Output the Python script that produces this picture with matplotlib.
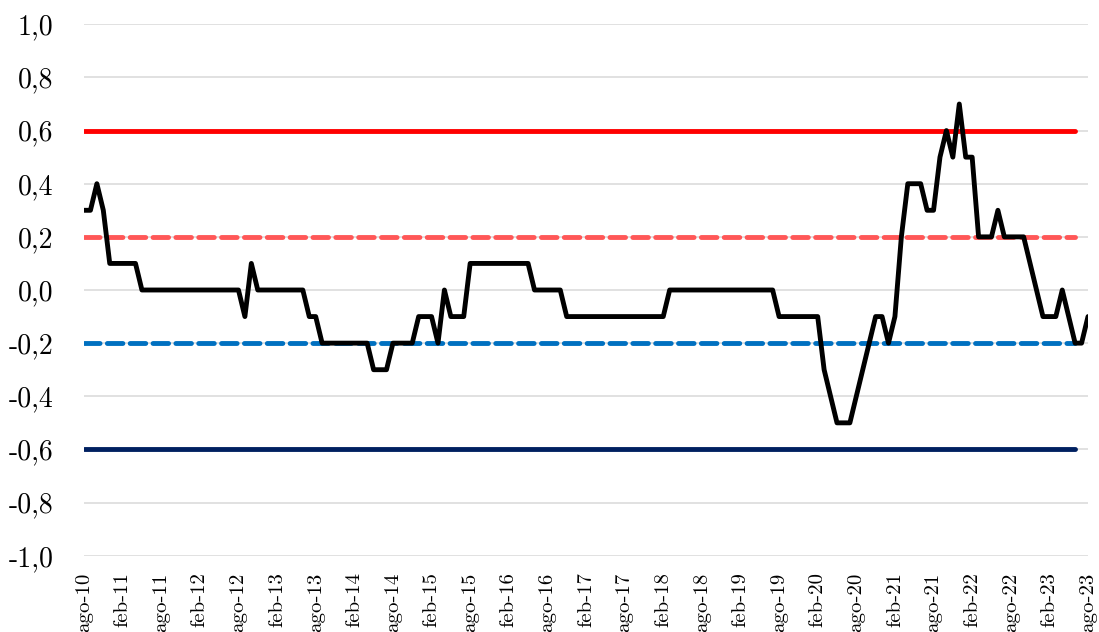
import matplotlib.pyplot as plt
import numpy as np

plt.rcParams['font.family'] = ['cmr10', 'DejaVu Serif']
plt.rcParams['axes.unicode_minus'] = False

# serie mensual ago-10 ... ago-23 (una fila por año calendario)
valores = [
    0.3, 0.3, 0.4, 0.3, 0.1,                                              # ago-dic 2010
    0.1, 0.1, 0.1, 0.1, 0.0, 0.0, 0.0, 0.0, 0.0, 0.0, 0.0, 0.0,           # 2011
    0.0, 0.0, 0.0, 0.0, 0.0, 0.0, 0.0, 0.0, -0.1, 0.1, 0.0, 0.0,          # 2012
    0.0, 0.0, 0.0, 0.0, 0.0, 0.0, -0.1, -0.1, -0.2, -0.2, -0.2, -0.2,     # 2013
    -0.2, -0.2, -0.2, -0.2, -0.3, -0.3, -0.3, -0.2, -0.2, -0.2, -0.2, -0.1,  # 2014
    -0.1, -0.1, -0.2, 0.0, -0.1, -0.1, -0.1, 0.1, 0.1, 0.1, 0.1, 0.1,     # 2015
    0.1, 0.1, 0.1, 0.1, 0.1, 0.0, 0.0, 0.0, 0.0, 0.0, -0.1, -0.1,         # 2016
    -0.1, -0.1, -0.1, -0.1, -0.1, -0.1, -0.1, -0.1, -0.1, -0.1, -0.1, -0.1,  # 2017
    -0.1, -0.1, 0.0, 0.0, 0.0, 0.0, 0.0, 0.0, 0.0, 0.0, 0.0, 0.0,         # 2018
    0.0, 0.0, 0.0, 0.0, 0.0, 0.0, 0.0, -0.1, -0.1, -0.1, -0.1, -0.1,      # 2019
    -0.1, -0.1, -0.3, -0.4, -0.5, -0.5, -0.5, -0.4, -0.3, -0.2, -0.1, -0.1,  # 2020
    -0.2, -0.1, 0.2, 0.4, 0.4, 0.4, 0.3, 0.3, 0.5, 0.6, 0.5, 0.7,         # 2021
    0.5, 0.5, 0.2, 0.2, 0.2, 0.3, 0.2, 0.2, 0.2, 0.2, 0.1, 0.0,           # 2022
    -0.1, -0.1, -0.1, 0.0, -0.1, -0.2, -0.2, -0.1,                        # ene-ago 2023
]

etiquetas_x = [
    'ago-10', 'feb-11', 'ago-11', 'feb-12', 'ago-12', 'feb-13', 'ago-13',
    'feb-14', 'ago-14', 'feb-15', 'ago-15', 'feb-16', 'ago-16', 'feb-17',
    'ago-17', 'feb-18', 'ago-18', 'feb-19', 'ago-19', 'feb-20', 'ago-20',
    'feb-21', 'ago-21', 'feb-22', 'ago-22', 'feb-23', 'ago-23',
]

# umbrales horizontales (llegan hasta jun-23)
umbral_alto = 0.6
umbral_medio_alto = 0.2
umbral_medio_bajo = -0.2
umbral_bajo = -0.6
n_umbral = 155

etiquetas_y = ['-1,0', '-0,8', '-0,6', '-0,4', '-0,2', '0,0',
               '0,2', '0,4', '0,6', '0,8', '1,0']

meses = np.arange(len(valores))
x_umbral = meses[:n_umbral]

fig = plt.figure(figsize=(10.99, 6.32), dpi=100)
ax = fig.add_axes([84 / 1099, 1 - 555.7 / 632, 1004 / 1099, 531.4 / 632])

ax.set_xlim(0, len(valores) - 1)
ax.set_ylim(-1, 1)

yt = np.linspace(-1, 1, 11)
ax.set_yticks(yt)
ax.set_yticklabels(etiquetas_y, fontsize=20)
ax.set_xticks(meses[::6])
ax.set_xticklabels(etiquetas_x, rotation=90, fontsize=15)
ax.tick_params(axis='y', length=0, pad=22)
ax.tick_params(axis='x', length=0, pad=12)

for s in ax.spines.values():
    s.set_visible(False)
ax.grid(axis='y', color='#d9d9d9', lw=1.1)
ax.set_axisbelow(True)

lw = 3.5
dash = (3.2, 1.5)
ax.plot(x_umbral, [umbral_alto] * n_umbral, color='#ff0000', lw=lw,
        solid_capstyle='round')
ax.plot(x_umbral, [umbral_bajo] * n_umbral, color='#002060', lw=lw,
        solid_capstyle='round')
ax.plot(x_umbral, [umbral_medio_alto] * n_umbral, color='#ff5757', lw=lw,
        dashes=dash, dash_capstyle='round')
ax.plot(x_umbral, [umbral_medio_bajo] * n_umbral, color='#0070c0', lw=lw,
        dashes=dash, dash_capstyle='round')

ax.plot(meses, valores, color='black', lw=lw, solid_joinstyle='round',
        solid_capstyle='round', zorder=5)

fig.savefig('out.png', dpi=100)
